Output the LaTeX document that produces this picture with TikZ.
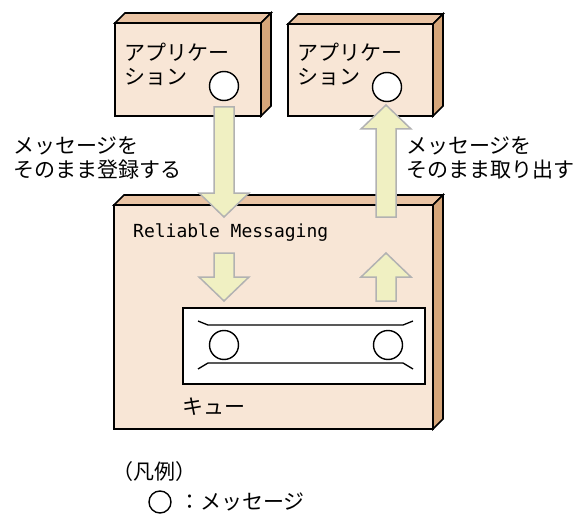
\documentclass[tikz,border=0pt]{standalone}
\usepackage{fontspec}
\usepackage{tikz}
\newfontfamily\jp{Noto Sans CJK JP}
\newfontfamily\mono{DejaVu Sans Mono}

\definecolor{facefront}{RGB}{248,230,214}
\definecolor{facetop}{RGB}{234,196,164}
\definecolor{faceside}{RGB}{214,166,122}
\definecolor{arrowfill}{RGB}{240,240,194}
\definecolor{arrowline}{RGB}{178,178,178}

% box with depth: x1,y1 (front top left), x2,y2 (front bottom right)
\newcommand\crate[4]{%
  \filldraw[crateline, fill=facetop] (#1,#2) -- (#1+10,#2-10) -- (#3+10,#2-10) -- (#3,#2) -- cycle;
  \filldraw[crateline, fill=faceside] (#3,#2) -- (#3+10,#2-10) -- (#3+10,#4-10) -- (#3,#4) -- cycle;
  \filldraw[crateline, fill=facefront] (#1,#2) rectangle (#3,#4);
}
% block arrows: x center, start, tip
\newcommand\blockdown[3]{%
  \filldraw[blockarrow] (#1-10,#2) -- (#1+10,#2) -- (#1+10,#3-24) -- (#1+25,#3-24)
    -- (#1,#3) -- (#1-25,#3-24) -- (#1-10,#3-24) -- cycle;
}
\newcommand\blockup[3]{%
  \filldraw[blockarrow] (#1-10,#2) -- (#1+10,#2) -- (#1+10,#3+24) -- (#1+25,#3+24)
    -- (#1,#3) -- (#1-25,#3+24) -- (#1-10,#3+24) -- cycle;
}

\begin{document}
\begin{tikzpicture}[
    x=1pt,y=-1pt,
    crateline/.style={line width=1.6pt, line join=miter},
    blockarrow/.style={fill=arrowfill, draw=arrowline, line width=1.5pt, line join=miter},
    msg/.style={circle, draw, fill=white, line width=1.4pt, inner sep=0pt, minimum size=29pt},
    jplabel/.style={font=\jp\fontsize{21}{24.5}\selectfont, inner sep=0pt, align=left, anchor=west}
    ]
    \useasboundingbox (0,0) rectangle (578,516);
    \fill[white] (0,0) rectangle (578,516);

    % applications
    \crate{115}{23}{261}{116}
    \crate{288}{24}{433}{116}
    \node[jplabel] (appA) at (124,64.5) {アプリケー\\ション};
    \node[jplabel] (appB) at (297,64.5) {アプリケー\\ション};
    \node[msg] (msgA) at (224,86) {};
    \node[msg] (msgB) at (387,87) {};

    % Reliable Messaging
    \crate{114}{205}{433}{429}
    \node[anchor=west, inner sep=0pt, font=\mono\fontsize{18}{20}\selectfont] (rm) at (133,233) {Reliable Messaging};

    % queue
    \filldraw[line width=1.6pt, fill=white] (183,308) rectangle (425,384);
    \draw[line width=1.3pt] (198,321) -- (208,325) -- (403,325) -- (413,321);
    \draw[line width=1.3pt] (198,369) -- (208,363) -- (403,363) -- (413,369);
    \node[msg] (qA) at (224,345) {};
    \node[msg] (qB) at (388,345) {};
    \node[jplabel] (queue) at (182,407) {キュー};

    % arrows
    \blockdown{224}{107}{217}
    \blockup{386}{217}{105}
    \blockdown{224}{253}{301}
    \blockup{386}{301}{253}

    \node[jplabel] (put) at (13,158) {メッセージを\\そのまま登録する};
    \node[jplabel] (get) at (406,158) {メッセージを\\そのまま取り出す};

    % legend
    \node[jplabel] (legend) at (112,472) {（凡例）};
    \node[msg, minimum size=22pt] (msgL) at (160,502) {};
    \node[jplabel] (legendtext) at (179,502) {：メッセージ};
  \end{tikzpicture}
\end{document}
